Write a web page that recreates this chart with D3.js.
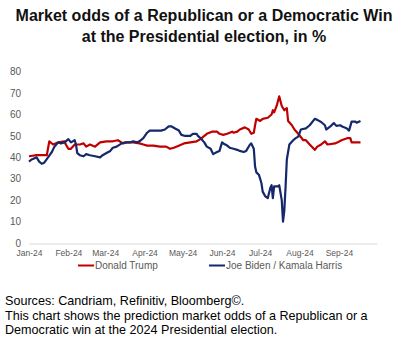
<!DOCTYPE html>
<html><head><meta charset="utf-8">
<script src="https://cdn.jsdelivr.net/npm/d3@7"></script>
<style>
html,body{margin:0;padding:0;background:#fff;}
svg{display:block;font-family:"Liberation Sans",Arial,sans-serif;}
</style></head>
<body><svg id="chart" width="408" height="355"></svg>
<script>
const titleLines = ["Market odds of a Republican or a Democratic Win", "at the Presidential election, in %"];
const seriesNames = ["Donald Trump", "Joe Biden / Kamala Harris"];
const yTicks = [0, 10, 20, 30, 40, 50, 60, 70, 80];
const monthTicks = ["2024-01-01","2024-02-01","2024-03-01","2024-04-01","2024-05-01","2024-06-01","2024-07-01","2024-08-01","2024-09-01"];
const noteLines = ["Sources: Candriam, Refinitiv, Bloomberg\u00A9.",
  "This chart shows the prediction market odds of a Republican or a",
  "Democratic win at the 2024 Presidential election."];

const trumpDates = ["2024-01-01","2024-01-07","2024-01-13","2024-01-15","2024-01-17","2024-01-20","2024-01-24","2024-01-29","2024-01-30","2024-02-01","2024-02-03","2024-02-06","2024-02-10","2024-02-13","2024-02-15","2024-02-18","2024-02-22","2024-02-26","2024-03-02","2024-03-07","2024-03-11","2024-03-15","2024-03-18","2024-03-23","2024-03-28","2024-03-31","2024-04-03","2024-04-08","2024-04-13","2024-04-18","2024-04-21","2024-04-24","2024-04-26","2024-05-02","2024-05-07","2024-05-12","2024-05-15","2024-05-20","2024-05-24","2024-05-28","2024-05-30","2024-06-02","2024-06-05","2024-06-09","2024-06-10","2024-06-13","2024-06-15","2024-06-19","2024-06-22","2024-06-24","2024-06-26","2024-06-27","2024-06-28","2024-07-01","2024-07-03","2024-07-07","2024-07-10","2024-07-11","2024-07-12","2024-07-14","2024-07-16","2024-07-18","2024-07-20","2024-07-22","2024-07-23","2024-07-26","2024-07-28","2024-07-31","2024-08-04","2024-08-06","2024-08-09","2024-08-13","2024-08-15","2024-08-18","2024-08-21","2024-08-23","2024-08-29","2024-08-31","2024-09-03","2024-09-08","2024-09-10","2024-09-11","2024-09-18"];
const trumpValues = [40.5,41,41,41,47.5,46,47,47.5,46,44,44,46,46,46.5,45,46,45,47,47.5,47.5,48,46.5,47,47,46.5,46,45.5,45.5,45,45,44,44.5,45,46.5,47,47.5,48.5,51,52,52,51,50.5,51,52,51.5,52,53,54,53,51,51.5,55,58,57,58,58.5,60,62,61,64,68.5,64,62,63,57,55,53,51,48,48,46,43.5,45,46,47.5,46,46.5,47,48,49,49,47,47];

const harrisDates = ["2024-01-01","2024-01-03","2024-01-05","2024-01-07","2024-01-09","2024-01-11","2024-01-13","2024-01-16","2024-01-19","2024-01-21","2024-01-24","2024-01-26","2024-01-29","2024-02-01","2024-02-03","2024-02-06","2024-02-07","2024-02-08","2024-02-10","2024-02-13","2024-02-15","2024-02-18","2024-02-22","2024-02-26","2024-02-28","2024-03-02","2024-03-05","2024-03-07","2024-03-10","2024-03-14","2024-03-17","2024-03-21","2024-03-23","2024-03-26","2024-03-28","2024-03-31","2024-04-03","2024-04-05","2024-04-10","2024-04-14","2024-04-17","2024-04-20","2024-04-22","2024-04-25","2024-04-28","2024-04-30","2024-05-03","2024-05-07","2024-05-09","2024-05-12","2024-05-13","2024-05-15","2024-05-18","2024-05-20","2024-05-23","2024-05-25","2024-05-28","2024-05-30","2024-06-01","2024-06-02","2024-06-05","2024-06-07","2024-06-10","2024-06-13","2024-06-15","2024-06-18","2024-06-20","2024-06-23","2024-06-24","2024-06-26","2024-06-27","2024-06-28","2024-06-30","2024-07-02","2024-07-03","2024-07-05","2024-07-07","2024-07-09","2024-07-10","2024-07-11","2024-07-12","2024-07-15","2024-07-16","2024-07-18","2024-07-19","2024-07-20","2024-07-21","2024-07-22","2024-07-24","2024-07-27","2024-07-29","2024-07-31","2024-08-02","2024-08-06","2024-08-09","2024-08-13","2024-08-15","2024-08-18","2024-08-21","2024-08-22","2024-08-25","2024-08-28","2024-08-30","2024-09-02","2024-09-04","2024-09-07","2024-09-09","2024-09-11","2024-09-14","2024-09-15","2024-09-18"];
const harrisValues = [38,39,39.5,40,38,37,37.5,40,42.5,45,47,46.5,47,48.5,47,48,46,42,41,40.5,41.5,41,40.5,40,41,42,43,44.5,45,46.5,47,47,47.5,47,47.5,49,51.5,52.5,52.5,52.5,53,54.5,54.5,53.5,52.5,50.5,50,50,51,51,50,49,47,45,44,41.5,42.5,43,47,46.5,45.5,44.5,44,43.5,43,42.5,43,46,46.5,44,35.7,33,31.9,28,24,21.8,21,25.7,27,21,26.4,26.4,27,20,10,15,26,39,46,48,49,49.7,53,53.5,55,58,57.5,56.5,55,53,54.3,56,54.7,55,54.3,53.6,52.5,56.7,56.7,56.2,57];

const colors = ["#c00000", "#14286b"];
const parse = d3.timeParse("%Y-%m-%d");
const svg = d3.select("#chart");

const x = d3.scaleTime().domain([parse("2024-01-01"), parse("2024-10-01")]).range([29, 377]);
const y = d3.scaleLinear().domain([0, 80]).range([243, 71.7]);

// title
svg.append("g").selectAll("text").data(titleLines).join("text")
  .attr("x", 204).attr("y", (d, i) => 21 + i * 21)
  .attr("text-anchor", "middle").attr("font-size", 16).attr("font-weight", "bold").attr("fill", "#111")
  .text(d => d);

// y axis labels
const yAxis = d3.axisLeft(y).tickValues(yTicks).tickSize(0).tickPadding(0);
const gy = svg.append("g").attr("transform", "translate(21,0)").call(yAxis);
gy.select(".domain").remove();
gy.selectAll("text").attr("fill", "#595959").attr("font-size", 10).attr("font-family", "Liberation Sans, Arial, sans-serif");

// x axis
const xAxis = d3.axisBottom(x).tickValues(monthTicks.map(parse)).tickFormat(d3.timeFormat("%b-%y")).tickSize(0).tickPadding(6.5);
const gx = svg.append("g").attr("transform", "translate(0,243.5)").call(xAxis);
gx.select(".domain").attr("stroke", "#d9d9d9").attr("stroke-width", 1.2);
gx.selectAll("text").attr("fill", "#595959").attr("font-size", 8.5).attr("font-family", "Liberation Sans, Arial, sans-serif");

// lines
const line = d3.line().x(d => x(d[0])).y(d => y(d[1]));
const series = [
  trumpDates.map((d, i) => [parse(d), trumpValues[i]]),
  harrisDates.map((d, i) => [parse(d), harrisValues[i]])
];
svg.append("g").selectAll("path").data(series).join("path")
  .attr("d", line).attr("fill", "none")
  .attr("stroke", (d, i) => colors[i]).attr("stroke-width", 2.2).attr("stroke-linejoin", "round");

// legend
const legendX = [78, 209];
const lg = svg.append("g").selectAll("g").data(seriesNames).join("g")
  .attr("transform", (d, i) => `translate(${legendX[i]},265.5)`);
lg.append("line").attr("x1", 0).attr("x2", 16).attr("y1", 0).attr("y2", 0)
  .attr("stroke", (d, i) => colors[i]).attr("stroke-width", 2);
lg.append("text").attr("x", 17).attr("y", 3.5).attr("font-size", 10).attr("fill", "#595959").text(d => d);

// notes
svg.append("g").selectAll("text").data(noteLines).join("text")
  .attr("x", 5).attr("y", (d, i) => 305 + i * 14.5)
  .attr("font-size", 12.6).attr("fill", "#000").text(d => d);
</script>
</body></html>
